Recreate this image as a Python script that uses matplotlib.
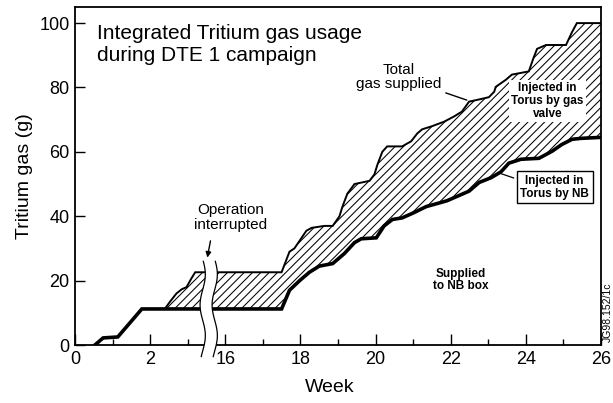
import numpy as np
import matplotlib
matplotlib.use("Agg")
import matplotlib.pyplot as plt

plt.rcParams['font.family'] = ['Liberation Sans', 'DejaVu Sans']
plt.rcParams['hatch.linewidth'] = 0.75

# ---------------- data (weeks, grams) ----------------
total_weeks = [2.39, 2.52, 2.70, 2.84, 2.97, 3.10, 3.20, 3.55, 15.55, 17.50,
               17.71, 17.84, 18.16, 18.30, 18.64, 18.86, 19.04, 19.12, 19.25, 19.44,
               19.84, 19.97, 20.05, 20.18, 20.31, 20.71, 20.95, 21.11, 21.24, 21.51,
               21.83, 22.09, 22.30, 22.49, 22.84, 23.02, 23.16, 23.20, 23.47, 23.63,
               24.08, 24.20, 24.30, 24.54, 25.07, 25.23, 25.36, 26.00]
total_gas = [11.2, 13.3, 16.0, 17.3, 18.0, 20.7, 22.6, 22.6, 22.6, 22.6,
             29.0, 30.0, 35.5, 36.4, 37.0, 37.0, 40.0, 43.0, 47.0, 50.0,
             51.0, 53.0, 56.0, 60.0, 61.7, 61.7, 63.3, 65.7, 67.0, 68.0,
             69.4, 71.0, 72.5, 75.6, 76.5, 77.0, 78.7, 80.2, 82.4, 84.0,
             85.0, 89.0, 92.0, 93.2, 93.2, 97.2, 100.0, 100.0]

nb_weeks = [0.53, 0.75, 1.14, 1.78, 3.55, 15.55, 17.50, 17.71, 17.98, 18.24,
            18.50, 18.86, 19.17, 19.44, 19.62, 20.02, 20.23, 20.45, 20.71, 21.00,
            21.35, 21.90, 22.49, 22.76, 23.08, 23.34, 23.55, 23.87, 24.35, 24.70,
            24.96, 25.23, 25.47, 26.00]
nb_gas = [0.0, 2.2, 2.5, 11.2, 11.2, 11.2, 11.2, 17.0, 20.0, 22.6,
          24.5, 25.3, 28.4, 31.8, 33.0, 33.3, 37.0, 39.0, 39.5, 41.0,
          43.0, 44.8, 47.8, 50.5, 52.0, 53.8, 56.5, 57.7, 58.0, 60.2,
          62.3, 63.9, 64.2, 64.5]

x_major = [0, 2, 16, 18, 20, 22, 24, 26]
x_minor = [1, 3, 17, 19, 21, 23, 25]
y_ticks = [0, 20, 40, 60, 80, 100]

# broken week axis: weeks 3.55 .. 15.55 are cut out
BREAK_LO, BREAK_HI = 3.55, 15.55
GAP = BREAK_HI - BREAK_LO


def fwd(w):
    w = np.asarray(w, float)
    return np.where(w <= BREAK_LO, w, np.where(w >= BREAK_HI, w - GAP, BREAK_LO))


def inv(p):
    p = np.asarray(p, float)
    return np.where(p <= BREAK_LO, p, p + GAP)


fig = plt.figure(figsize=(6.13, 4.03), dpi=100)
ax = fig.add_axes([0.1223, 0.1439, 0.858, 0.8387])
ax.set_xscale('function', functions=(fwd, inv))
ax.set_xlim(0, 26)
ax.set_ylim(0, 105)

# hatched region between total supplied and NB injected
tw = np.array(total_weeks)
tg = np.array(total_gas)
nw = np.array(nb_weeks)
ng = np.array(nb_gas)
mask = nw > tw[0]
low_w = np.r_[tw[0], nw[mask]]
low_g = np.r_[np.interp(tw[0], nw, ng), ng[mask]]
poly_w = np.r_[tw, low_w[::-1]]
poly_g = np.r_[tg, low_g[::-1]]
ax.fill(poly_w, poly_g, facecolor='white', edgecolor='black', hatch='////',
        linewidth=0, zorder=1)

ax.plot(tw, tg, color='black', lw=1.4, zorder=3, solid_joinstyle='miter')
ax.plot(nw, ng, color='black', lw=2.6, zorder=3, solid_joinstyle='miter')

# axis break band (wavy)
yy = np.linspace(-3.6, 26.0, 80)
xl = 3.40 + 0.07 * np.sin(2 * np.pi * yy / 19.0 + 0.6)
xr = 15.72 + 0.07 * np.sin(2 * np.pi * yy / 19.0 + 0.6)
ax.fill(np.r_[xl, xr[::-1]], np.r_[yy, yy[::-1]], facecolor='white',
        edgecolor='none', zorder=4, clip_on=False)
ax.plot(xl, yy, color='black', lw=0.9, zorder=5, clip_on=False)
ax.plot(xr, yy, color='black', lw=0.9, zorder=5, clip_on=False)

# ticks
ax.set_xticks(x_major)
ax.set_xticklabels([str(v) for v in x_major])
ax.set_xticks(x_minor, minor=True)
ax.set_yticks(y_ticks)
ax.tick_params(axis='x', which='major', direction='in', length=8, width=1,
               labelsize=13, pad=4)
ax.tick_params(axis='x', which='minor', direction='in', length=4, width=1)
ax.tick_params(axis='y', which='major', direction='in', length=7, width=1,
               labelsize=13, pad=4)
for s in ax.spines.values():
    s.set_linewidth(1.3)

ax.set_xlabel('Week', fontsize=14, va='top')
ax.xaxis.set_label_coords(0.485, -0.10)
ax.set_ylabel('Tritium gas (g)', fontsize=14)
ax.yaxis.set_label_coords(-0.08, 0.5)

# texts
fig.text(0.158, 0.94, 'Integrated Tritium gas usage\nduring DTE 1 campaign',
         fontsize=15, ha='left', va='top', linespacing=1.22)

ax.text(20.62, 83.4, 'Total\ngas supplied', fontsize=11, ha='center',
        va='center', linespacing=1.0)
ax.annotate('', xy=(22.5, 75.8), xytext=(21.8, 78.6),
            arrowprops=dict(arrowstyle='-', color='black', lw=1.0))

ax.text(24.58, 75.7, 'Injected in\nTorus by gas\nvalve', fontsize=8.5,
        fontweight='bold', ha='center', va='center', linespacing=1.1,
        bbox=dict(facecolor='white', edgecolor='none', pad=1.5), zorder=3.5)

ax.text(24.77, 49.0, 'Injected in\nTorus by NB', fontsize=8.5, fontweight='bold',
        ha='center', va='center', linespacing=1.15,
        bbox=dict(facecolor='white', edgecolor='black', lw=1.0,
                  boxstyle='square,pad=0.3'), zorder=6)
ax.annotate('', xy=(23.25, 53.6), xytext=(23.75, 51.6),
            arrowprops=dict(arrowstyle='-', color='black', lw=0.9))

ax.text(22.27, 20.2, 'Supplied\nto NB box', fontsize=8.5, fontweight='bold',
        ha='center', va='center', linespacing=1.1)

ax.text(16.15, 39.7, 'Operation\ninterrupted', fontsize=11, ha='center',
        va='center', linespacing=1.1)
ax.annotate('', xy=(3.51, 26.3), xytext=(15.62, 33.2),
            arrowprops=dict(arrowstyle='-|>', color='black', lw=1.0,
                            mutation_scale=8))

fig.text(0.992, 0.225, 'JG98.152/1c', fontsize=7.5, rotation=90,
         ha='center', va='center')

fig.savefig('out.png', dpi=100)
